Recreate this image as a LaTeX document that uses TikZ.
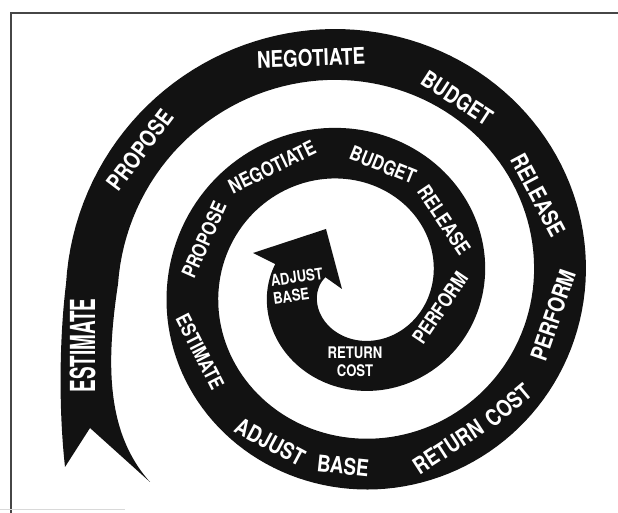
\documentclass[tikz,border=0pt]{standalone}
\usepackage{fontspec}
\newfontfamily\bandfont{TeX Gyre Heros}
\definecolor{bandblack}{RGB}{18, 18, 18}
\definecolor{framegray}{RGB}{70, 70, 70}
\usetikzlibrary{calc}

\begin{document}
\begin{tikzpicture}[x=1pt, y=1pt,
    declare function={sr(\t)=208.4+0.281*\t;},
    lbl/.style={text=white, inner sep=0pt, font=\bandfont\bfseries\fontsize{23}{23}\selectfont},
    lblin/.style={lbl, font=\bandfont\bfseries\fontsize{20}{20}\selectfont},
    lblhead/.style={lbl, font=\bandfont\bfseries\fontsize{16}{18}\selectfont},
    cond/.style={xscale=0.82}]
    \useasboundingbox (0,0) rectangle (618,513);

    % Frame
    \draw[framegray, line width=1.5pt] (11,0) -- (11,500) -- (618,500);
    \draw[black!15, line width=1pt] (0,3) -- (125,3);

    % Spiral band: fish tail, two turns, arrow head
    \fill[bandblack] (65,46) .. controls (58,110) and (60,180) .. (66,229)
        -- plot[domain=180:-555, samples=300] ({351+(sr(\x)+26)*cos(\x)}, {229+0.98*(sr(\x)+26)*sin(\x)})
        -- (253,260) -- (326,284) -- (342,224)
        -- plot[domain=-555:180, samples=300] ({351+(sr(\x)-26)*cos(\x)}, {229+0.98*(sr(\x)-26)*sin(\x)})
        .. controls (106,150) and (106,80) .. (150,31) -- (90,85) -- cycle;

    % Outer turn labels
    \node[lbl, rotate=90, yscale=1.5, cond] (est1) at (82.5,167.5) {ESTIMATE};
    \foreach \nm/\px/\py/\ang/\txt in {pro1/140/363/53/PROPOSE, neg1/311/455/2/NEGOTIATE,
        bud1/457/415/-33/BUDGET, rel1/538/318/-62/RELEASE, per1/553/198/71/PERFORM,
        ret1/448/66/33/RETURN, cost1/508/108/40/COST, adj1/270/71/-28/ADJUST, base1/343/47/-6/BASE} {
        \node[lbl, rotate=\ang, cond] (\nm) at (\px,\py) {\txt};
    }

    % Inner turn labels
    \foreach \nm/\px/\py/\ang/\txt in {est2/200/161/-63/ESTIMATE, pro2/204/273/66/PROPOSE,
        neg2/272/346/26/NEGOTIATE, bud2/383/348/-22/BUDGET, rel2/444/293/-56/RELEASE,
        per2/440/205/56/PERFORM} {
        \node[lblin, rotate=\ang, cond] (\nm) at (\px,\py) {\txt};
    }

    % Labels on the arrow
    \node[lblhead, align=center, cond] (ret2) at (355,151) {RETURN\\COST};
    \node[lblhead, align=left, rotate=8, cond] (adj2) at (298,227) {ADJUST\\BASE};
\end{tikzpicture}
\end{document}
